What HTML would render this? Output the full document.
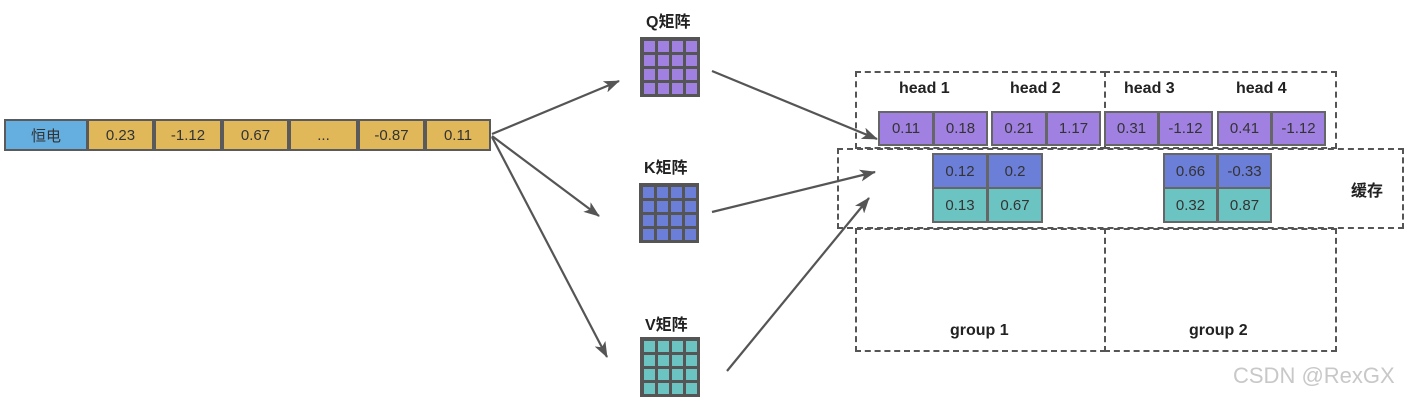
<!DOCTYPE html>
<html><head><meta charset="utf-8"><style>
body{margin:0;background:#fff;width:1414px;height:403px;overflow:hidden;position:relative;font-family:"Liberation Sans","Noto Sans CJK SC",sans-serif;}
.c{position:absolute;box-sizing:border-box;border:2px solid #5a5a5a;display:flex;align-items:center;justify-content:center;font-size:15px;color:#333;}
.y{background:#e0b85a;}
.p{background:#a080e0;border-color:#666;}
.b{background:#6c7fd8;border-color:#666;}
.t{background:#6cc4c2;border-color:#666;}
.d{position:absolute;box-sizing:border-box;border:2px dashed #555;}
.l{position:absolute;font-weight:bold;font-size:16px;color:#222;}
.m{position:absolute;width:60px;height:60px;background:#555;display:grid;grid-template-columns:repeat(4,1fr);grid-template-rows:repeat(4,1fr);padding:2px;box-sizing:border-box;gap:0}
.m i{margin:1.5px;display:block}
</style></head><body>
<div class="c" style="left:4px;top:119px;width:84px;height:32px;background:#64aee0;">恒电</div>
<div class="c y" style="left:87px;top:119px;width:67px;height:32px;">0.23</div>
<div class="c y" style="left:154px;top:119px;width:68px;height:32px;">-1.12</div>
<div class="c y" style="left:222px;top:119px;width:67px;height:32px;">0.67</div>
<div class="c y" style="left:289px;top:119px;width:69px;height:32px;">...</div>
<div class="c y" style="left:358px;top:119px;width:67px;height:32px;">-0.87</div>
<div class="c y" style="left:425px;top:119px;width:66px;height:32px;">0.11</div>

<div class="l" style="left:646px;top:8px;">Q矩阵</div>
<div class="l" style="left:644px;top:154px;">K矩阵</div>
<div class="l" style="left:645px;top:311px;">V矩阵</div>
<div class="m" id="mq" style="left:640px;top:37px;"></div>
<div class="m" id="mk" style="left:639px;top:183px;"></div>
<div class="m" id="mv" style="left:640px;top:337px;"></div>

<div class="d" style="left:855px;top:71px;width:251px;height:78px;"></div>
<div class="d" style="left:1104px;top:71px;width:233px;height:78px;"></div>
<div class="d" style="left:837px;top:148px;width:567px;height:81px;"></div>
<div class="d" style="left:855px;top:228px;width:251px;height:124px;"></div>
<div class="d" style="left:1104px;top:228px;width:233px;height:124px;"></div>

<div class="l" style="left:899px;top:80px;">head 1</div>
<div class="l" style="left:1010px;top:80px;">head 2</div>
<div class="l" style="left:1124px;top:80px;">head 3</div>
<div class="l" style="left:1236px;top:80px;">head 4</div>
<div class="l" style="left:1351px;top:177px;">缓存</div>
<div class="l" style="left:950px;top:322px;">group 1</div>
<div class="l" style="left:1189px;top:322px;">group 2</div>

<div class="c p" style="left:878px;top:111px;width:56px;height:35px;">0.11</div>
<div class="c p" style="left:933px;top:111px;width:55px;height:35px;">0.18</div>
<div class="c p" style="left:991px;top:111px;width:56px;height:35px;">0.21</div>
<div class="c p" style="left:1046px;top:111px;width:55px;height:35px;">1.17</div>
<div class="c p" style="left:1104px;top:111px;width:55px;height:35px;">0.31</div>
<div class="c p" style="left:1158px;top:111px;width:55px;height:35px;">-1.12</div>
<div class="c p" style="left:1217px;top:111px;width:55px;height:35px;">0.41</div>
<div class="c p" style="left:1271px;top:111px;width:55px;height:35px;">-1.12</div>

<div class="c b" style="left:932px;top:153px;width:56px;height:36px;">0.12</div>
<div class="c b" style="left:987px;top:153px;width:56px;height:36px;">0.2</div>
<div class="c t" style="left:932px;top:187px;width:56px;height:36px;">0.13</div>
<div class="c t" style="left:987px;top:187px;width:56px;height:36px;">0.67</div>
<div class="c b" style="left:1163px;top:153px;width:55px;height:36px;">0.66</div>
<div class="c b" style="left:1217px;top:153px;width:55px;height:36px;">-0.33</div>
<div class="c t" style="left:1163px;top:187px;width:55px;height:36px;">0.32</div>
<div class="c t" style="left:1217px;top:187px;width:55px;height:36px;">0.87</div>

<svg style="position:absolute;left:0;top:0" width="1414" height="403">
<defs><marker id="h" markerWidth="16" markerHeight="12" refX="15" refY="6" orient="auto" markerUnits="userSpaceOnUse"><path d="M0,0 L16,6 L0,12 L4,6z" fill="#555"/></marker></defs>
<g stroke="#555" stroke-width="2.2" fill="none" marker-end="url(#h)">
<line x1="492" y1="134" x2="619" y2="81"/>
<line x1="492" y1="136" x2="599" y2="216"/>
<line x1="492" y1="137" x2="607" y2="357"/>
<line x1="712" y1="71" x2="877" y2="139"/>
<line x1="712" y1="212" x2="875" y2="172"/>
<line x1="727" y1="371" x2="869" y2="198"/>
</g>
</svg>
<div style="position:absolute;left:1233px;top:363px;font-size:22px;color:#c8c8c8;">CSDN @RexGX</div>
<script>
[["mq","#a080e0"],["mk","#6c7fd8"],["mv","#6cc4c2"]].forEach(function(x){var e=document.getElementById(x[0]);for(var i=0;i<16;i++){var s=document.createElement("i");s.style.background=x[1];e.appendChild(s);}});
</script>
</body></html>
